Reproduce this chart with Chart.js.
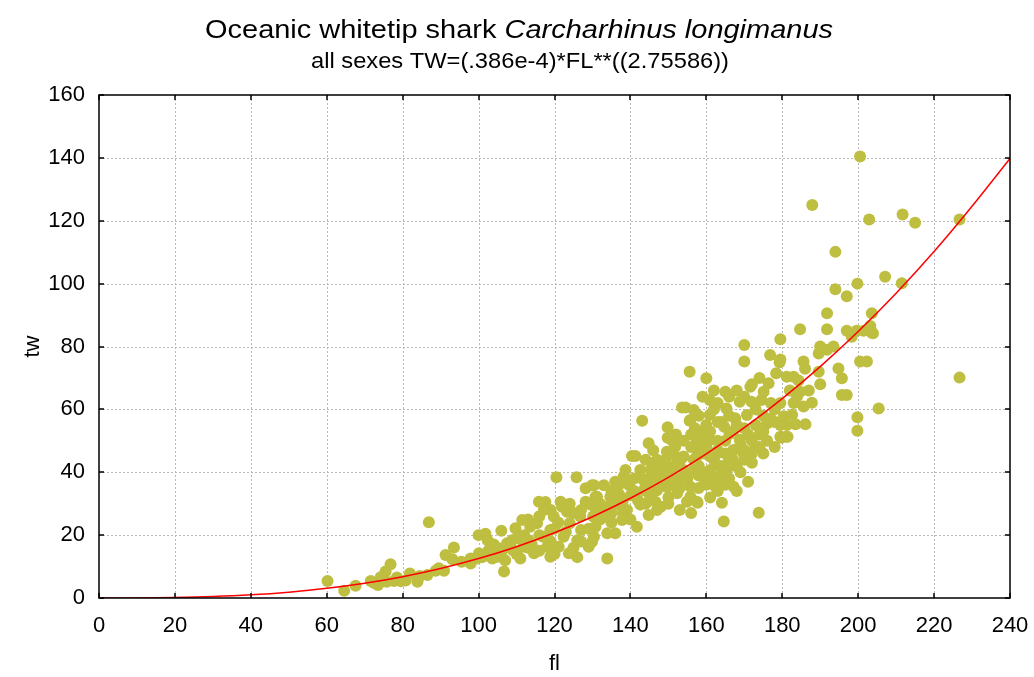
<!DOCTYPE html>
<html><head><meta charset="utf-8">
<script src="https://cdn.jsdelivr.net/npm/chart.js@4/dist/chart.umd.min.js"></script>
<style>html,body{margin:0;padding:0;background:#fff}#wrap{width:1034px;height:677px;position:relative}</style>
</head><body><div id="wrap"><canvas id="c" width="1034" height="677"></canvas></div>
<script>
const titleMain = 'Oceanic whitetip shark ';
const titleItalic = 'Carcharhinus longimanus';
const subtitleText = 'all sexes TW=(.386e-4)*FL**((2.75586))';
const xAxisTitle = 'fl';
const yAxisTitle = 'tw';
const xTickValues = [0,20,40,60,80,100,120,140,160,180,200,220,240];
const yTickValues = [0,20,40,60,80,100,120,140,160];

// observed fork length (fl) and total weight (tw)
const flValues = [
60.2,64.6,67.6,71.6,73.5,74.2,75.5,76.8,75.8,77.7,79.5,80.8,81.9,83.9,86.9,86.5,88.7,90.9,91.3,93.5,93.1,97.9,99.6,100,
72.5,78.5,84.5,89.5,95.5,
97.9,100.1,101.8,102.7,103.6,104.9,106,106.7,106.3,107.5,108.8,109.7,111,111.5,111.8,113.2,114.6,115.4,115.9,117.2,117,118.1,118.9,119.8,120.5,121.6,121.1,122.4,123.3,123.8,124,125.8,126,126.8,127,128.2,128.2,129,129.9,130.2,130.4,131.2,102.4,109,113.6,118.9,117.6,
155.6,154.5,153.6,143.1,149.8,155.6,144.8,149.8,140.4,141.3,149.6,151.8,157.4,149.2,153.2,157.5,138.7,142.6,145.3,147,150.5,154,156.6,138.2,136,133,130.4,130.8,134.7,139.7,140.1,143.5,147,149.6,152.3,154.9,157.5,153.3,129.5,133,136.5,139.1,142.6,144.8,146.6,141.7,130.8,133.9,136,129.9,133.9,133.5,137.8,130.4,
179.5,170,170,176.8,179.3,160,178.4,176.4,165,171.6,175.1,160.9,168.8,171.9,174.5,165.3,156.7,155.8,160.9,167.6,170.7,176,179.5,181,172.9,164.7,158.4,157.6,161.1,166.1,168.8,162.8,167.1,169.7,159.4,156.7,162,165.4,168,159.7,162.4,167.2,155.8,155.8,157.7,164.1,164.6,173.8,161,163.6,
194,199.8,194,197,191.8,203.6,184.7,191.8,197,199.6,201.4,203.6,198.3,190,189.6,191.8,193.5,179.5,185.6,200.5,202.3,194.8,195.7,186,189.6,181.2,183,184.3,195.7,197,205.4,184.7,183.9,187.8,185.6,179.5,180.4,182.6,186.1,183.5,181.2,179.5,199.8,199.8,181.4,179.7,
200.5,202.9,211.7,215,226.7,207.1,211.5,203.2,203.9,226.7,187.9,
145,148,151,152,155,158,160,163,166,170,172,174,176,178,175,170,163,160,157,152,147,144,146,150,153,148,145,158,161,163,166,169,172,175,178,173,168,162,158,152,144,141,137,134,131,127,124,120,116,113,110,105,135,138,142,160,156,165,171,168,150,160,164,170,174,177,182,187,190,178,183,
101,104,107,110,112,114,116,119,121,123,125,127,129,125,122,119,116,113,120,126,
132,135,138,141,143,146,148,137,132,135,140,144,147,150,146,149,
152,154,156,158,159,161,163,165,167,169,171,173,166,163,161,164,167,170,172,175,177,174,156,154,151,158,162,165,153,
163,166,168,172,162,159
];
const twValues = [
5.4,2.3,3.9,5.4,4.1,6.6,8.4,10.7,5.2,5.4,5.3,5.6,7.8,5.2,24.1,7.3,8.7,8.7,13.7,16.1,12.3,11,12.6,20,
4.8,6.5,7,9.5,11.5,
12.6,14.2,20.4,15.3,12.6,13.1,21.4,8.4,15.3,17.4,18.4,22.2,12.6,24.8,16.3,18.4,14.2,23.8,30.6,28,19.5,16.3,21.6,25.9,38.4,30.6,16.3,19.5,27.4,14.2,23.8,38.4,18.4,25.9,21.6,34.9,30.6,16.3,35.9,25.9,19.5,32.2,18.4,15.3,22.7,13.1,30.5,
72,60.6,60.6,56.4,54.3,56.4,49.2,51,45.2,45.2,46.5,48.1,49.2,43.9,43.9,45,40.7,40.7,40.7,39.6,40.7,40.7,40.7,38.6,37,35.9,35.9,32.2,32.2,35.9,32.7,34.3,34.3,35.3,33.3,30.6,30.6,37.6,29.7,28,29.7,28,29.7,26.4,30.6,22.7,22.7,20.6,20.6,17.9,12.6,25.9,24.8,25.9,
82.3,80.5,75.2,77.3,75,69.9,71.5,68.3,65.6,67.2,65.6,63,62.4,62.4,63,60.3,59.8,56.6,58.2,57.2,58.2,55.5,51.3,51.3,48.1,54.5,52.9,49.2,50.3,52.2,50.3,46,47.1,46.1,46,44,44,40.7,41.8,37,35.4,35.4,35.4,32.2,30.3,30.3,24.3,27.1,40.7,38.6,
110.1,100,98.2,96,90.6,90.6,85.5,85.5,85,85,85,84.4,83.1,80,77.8,79,80,75.9,75.2,75.2,75.2,73,69.9,72.9,72,70.4,70.4,69.2,64.6,64.6,60.3,65.6,64,62.1,60.9,62,57.8,58.3,55.3,55.3,55,55,57.5,53.2,51.3,51,
140.4,120.4,122,119.4,120.4,102.2,100.1,86.5,84.2,70.1,125,
38,37,36,42,38,42,40,42,44,44,50,52,50,48,46,54,50,55,54,45,44,44,47,32,28,29,33,35,32,34,38,40,43,58,60,60,55,60,58,52,36,38,33,29,28,28,30,22,20,16,19,16,24,27,31,36,27,46,37,34,42,48,56,64,70,62,66,66,68,56,62,
13,17,12,14,20,17,15,18,24,21,16,18,22,27,29,28,26,25,14,13,
30,34,31,34,38,36,41,36,25,27,25,30,28,30,43,38,
38,45,48,47,51,53,47,50,53,49,52,55,58,56,45,42,44,47,46,53,57,48,52,50,50,39,38,36,35,
62,64,66,68,66,64
];

// fitted curve read along fl
const curveFl = [0,10,20,30,40,50,60,70,80,90,100,110,120,130,140,150,160,170,180,190,200,210,220,230,240];
const curveTw = [0,0.02,0.15,0.45,1.0,1.86,3.07,4.69,6.78,9.38,12.54,16.32,20.74,25.86,31.72,38.36,45.84,54.18,63.42,73.6,84.77,96.96,110.2,124.6,139.8];

const scatterData = flValues.map((v,i)=>({x:v,y:twValues[i]}));
const curveData = curveFl.map((v,i)=>({x:v,y:curveTw[i]}));

const FONT = 'Arial, "Liberation Sans", sans-serif';

const framePlugin = {
  id:'frame',
  beforeDatasetsDraw(chart){
    const {ctx, chartArea:a, scales:{x,y}} = chart;
    ctx.save();
    ctx.strokeStyle = '#b8b8b8';
    ctx.lineWidth = 1;
    ctx.setLineDash([2,2]);
    xTickValues.forEach(v=>{
      const px = Math.round(x.getPixelForValue(v))+0.5;
      if (px > a.left+1 && px < a.right-1){ctx.beginPath();ctx.moveTo(px,a.top);ctx.lineTo(px,a.bottom);ctx.stroke();}
    });
    yTickValues.forEach(v=>{
      const py = Math.round(y.getPixelForValue(v))+0.5;
      if (py > a.top+1 && py < a.bottom-1){ctx.beginPath();ctx.moveTo(a.left,py);ctx.lineTo(a.right,py);ctx.stroke();}
    });
    ctx.restore();
  },
  afterDatasetsDraw(chart){
    const {ctx, chartArea:a, scales:{x,y}} = chart;
    ctx.save();
    ctx.strokeStyle = '#000';
    ctx.lineWidth = 1.5;
    ctx.strokeRect(a.left, a.top, a.right-a.left, a.bottom-a.top);
    const t = 5;
    ctx.beginPath();
    xTickValues.forEach(v=>{
      const px = Math.round(x.getPixelForValue(v));
      ctx.moveTo(px,a.bottom);ctx.lineTo(px,a.bottom-t);
      ctx.moveTo(px,a.top);ctx.lineTo(px,a.top+t);
    });
    yTickValues.forEach(v=>{
      const py = Math.round(y.getPixelForValue(v));
      ctx.moveTo(a.left,py);ctx.lineTo(a.left+t,py);
      ctx.moveTo(a.right,py);ctx.lineTo(a.right-t,py);
    });
    ctx.stroke();
    ctx.restore();
  },
  afterDraw(chart){
    const {ctx} = chart;
    ctx.save();
    ctx.fillStyle = '#000';
    ctx.textBaseline = 'alphabetic';
    ctx.textAlign = 'left';
    const f1 = '25.5px ' + FONT, f2 = 'italic 25.5px ' + FONT;
    ctx.font = f1; const w1 = ctx.measureText(titleMain).width;
    ctx.font = f2; const w2 = ctx.measureText(titleItalic).width;
    const targetW = 628, sxScale = targetW/(w1+w2);
    ctx.save();
    ctx.translate(519 - targetW/2, 38);
    ctx.scale(sxScale, 1);
    ctx.font = f1; ctx.fillText(titleMain, 0, 0);
    ctx.font = f2; ctx.fillText(titleItalic, w1, 0);
    ctx.restore();
    ctx.font = '22.5px ' + FONT;
    const ws = ctx.measureText(subtitleText).width;
    const targetS = 418, sc2 = targetS/ws;
    ctx.save();
    ctx.translate(520 - targetS/2, 68);
    ctx.scale(sc2, 1);
    ctx.fillText(subtitleText, 0, 0);
    ctx.restore();
    ctx.restore();
  }
};

new Chart(document.getElementById('c'), {
  type:'scatter',
  data:{datasets:[
    {type:'line', data:curveData, borderColor:'#ff0000', borderWidth:1.5, pointRadius:0, tension:0.4, cubicInterpolationMode:'monotone', fill:false, order:0},
    {type:'scatter', data:scatterData, backgroundColor:'rgb(190,190,64)', borderWidth:0, pointRadius:6, pointHoverRadius:6, order:1}
  ]},
  options:{
    responsive:false, animation:false, devicePixelRatio:1,
    layout:{padding:{top:95,right:24,left:0,bottom:0}},
    plugins:{legend:{display:false}, tooltip:{enabled:false}, title:{display:false}},
    scales:{
      x:{type:'linear', min:0, max:240,
        afterBuildTicks(s){ s.ticks = xTickValues.map(v=>({value:v})); },
        afterFit(s){ s.height = 79; s.paddingLeft = 0; s.paddingRight = 0; },
        grid:{display:false, drawTicks:false}, border:{display:false},
        ticks:{color:'#000', font:{family:FONT, size:22}, padding:15, maxRotation:0, autoSkip:false},
        title:{display:true, text:xAxisTitle, color:'#000', font:{family:FONT, size:22}, padding:{top:0,bottom:0}}
      },
      y:{type:'linear', min:0, max:160,
        afterBuildTicks(s){ s.ticks = yTickValues.map(v=>({value:v})); },
        afterFit(s){ s.width = 99; s.paddingTop = 0; s.paddingBottom = 0; },
        grid:{display:false, drawTicks:false}, border:{display:false},
        ticks:{color:'#000', font:{family:FONT, size:22}, padding:14, autoSkip:false},
        title:{display:true, text:yAxisTitle, color:'#000', font:{family:FONT, size:22}, padding:{top:20,bottom:0}}
      }
    }
  },
  plugins:[framePlugin]
});
</script>
</body></html>
